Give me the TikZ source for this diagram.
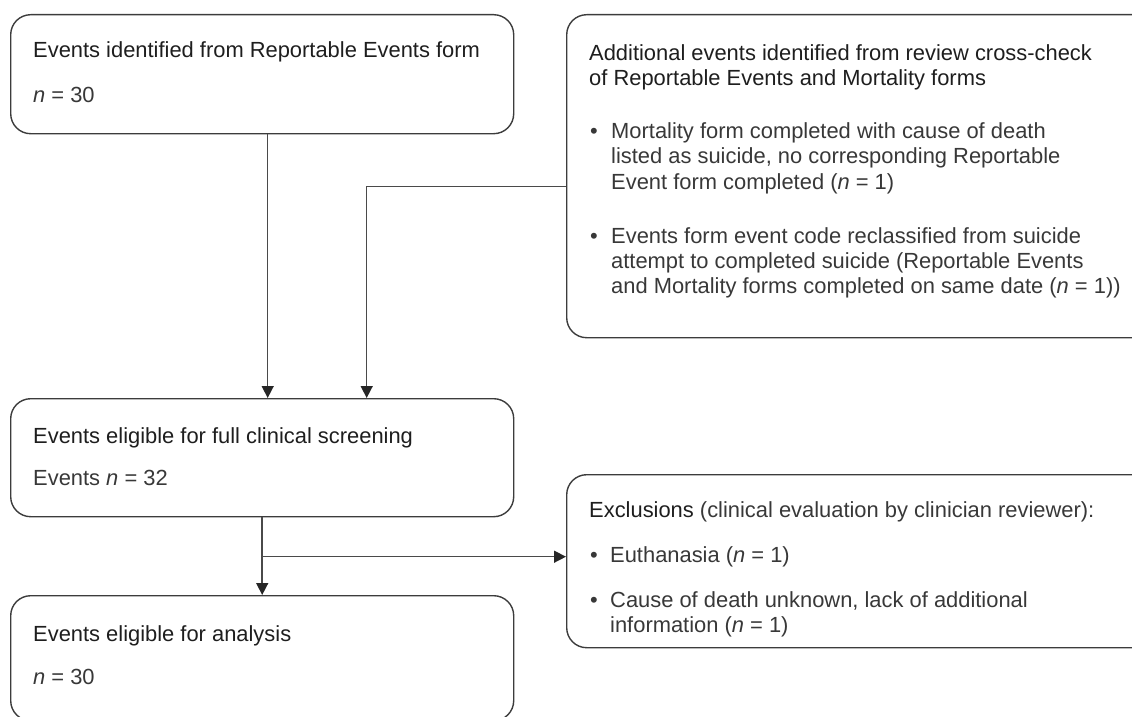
\documentclass[tikz,border=0pt]{standalone}
\usepackage{fontspec}
\setmainfont{Liberation Sans}
\usetikzlibrary{arrows.meta}
\definecolor{linec}{HTML}{4A4A4A}
\definecolor{boxc}{HTML}{3C3C3C}
\definecolor{tipc}{HTML}{262626}
\definecolor{headc}{HTML}{1E1E1E}
\definecolor{bodyc}{HTML}{383838}
\begin{document}
\begin{tikzpicture}[x=1pt,y=-1pt,
  box/.style={draw=boxc, line width=1.4pt, rounded corners=20pt, anchor=north west, inner sep=0pt, minimum width=#1},
  tx/.style={anchor=base west, inner sep=0pt, font=\fontsize{21.9}{26}\selectfont, text=bodyc},
  hd/.style={tx, text=headc},
  arr/.style={draw=linec, line width=1.5pt, -{Triangle[length=12pt,width=12pt,fill=tipc,color=tipc]}}]
\clip (0,0) rectangle (1132,717);
\useasboundingbox (0,0) rectangle (1132,717);
% boxes
\node[box=503pt, minimum height=119pt] (b1) at (10,14) {};
\node[box=600pt, minimum height=323pt] (rb) at (566,14) {};
\node[box=503pt, minimum height=118pt] (b2) at (10,398) {};
\node[box=600pt, minimum height=173pt] (ex) at (566,474) {};
\node[box=503pt, minimum height=125pt] (b3) at (10,595) {};
% box 1
\node[hd] (t1a) at (33,58) {Events identified from Reportable Events form};
\node[tx] (t1b) at (33,102) {\textit{n} = 30};
% right box
\node[hd] (r1) at (589,60) {Additional events identified from review cross-check};
\node[hd] (r2) at (589,85) {of Reportable Events and Mortality forms};
\node[tx] (rb1) at (590,138) {•};
\node[tx] (r3) at (611,138) {Mortality form completed with cause of death};
\node[tx] (r4) at (611,163) {listed as suicide, no corresponding Reportable};
\node[tx] (r5) at (611,189) {Event form completed (\textit{n} = 1)};
\node[tx] (rb2) at (590,243) {•};
\node[tx] (r6) at (611,243) {Events form event code reclassified from suicide};
\node[tx] (r7) at (611,268) {attempt to completed suicide (Reportable Events};
\node[tx] (r8) at (611,293) {and Mortality forms completed on same date (\textit{n} = 1))};
% box 2
\node[hd] (t2a) at (33,443) {Events eligible for full clinical screening};
\node[tx] (t2b) at (33,485) {Events \textit{n} = 32};
% exclusions
\node[tx] (e1) at (589,517) {\textcolor{headc}{Exclusions} (clinical evaluation by clinician reviewer):};
\node[tx] (eb1) at (590,562) {•};
\node[tx] (e2) at (610,562) {Euthanasia (\textit{n} = 1)};
\node[tx] (eb2) at (590,607) {•};
\node[tx] (e3) at (610,607) {Cause of death unknown, lack of additional};
\node[tx] (e4) at (610,632) {information (\textit{n} = 1)};
% box 3
\node[hd] (t3a) at (33,641) {Events eligible for analysis};
\node[tx] (t3b) at (33,684) {\textit{n} = 30};
% connectors
\draw[arr] ([xshift=5.5pt]b1.south) -- ([xshift=5.5pt]b2.north);
\coordinate (rin) at ([yshift=-10.2pt]rb.west);
\draw[arr] (rin) -| ([xshift=104.5pt]b2.north);
\draw[arr] (b2.south) -- (b3.north);
\coordinate (exin) at ([yshift=4.5pt]ex.west);
\draw[arr] (exin -| b2.south) -- (exin);
\end{tikzpicture}
\end{document}
